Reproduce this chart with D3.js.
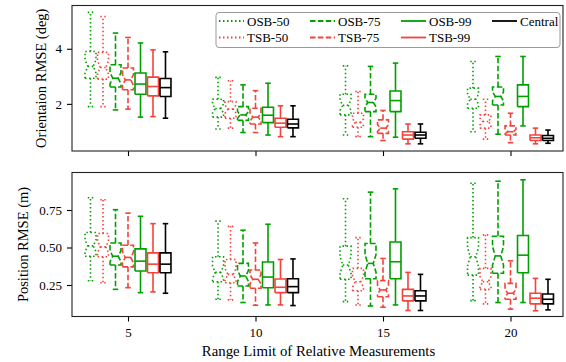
<!DOCTYPE html>
<html lang="en">
<head>
    <meta charset="UTF-8">
    <title>RMSE boxplots</title>
    <script src="https://d3js.org/d3.v7.min.js"></script>
    <style>
        html, body {
            margin: 0;
            background: #fff;
        }
        svg text {
            font-family: "Liberation Serif", "DejaVu Serif", serif;
            fill: #000;
        }
    </style>
</head>
<body>
    <div id="vis"></div>
    <script>

        // ---- data: [whisker low, q1, median, q3, whisker high] per range limit
        var rangeLimits = [5, 10, 15, 20];
        var seriesNames = ['OSB-50', 'TSB-50', 'OSB-75', 'TSB-75', 'OSB-99', 'TSB-99', 'Central'];

        var orientOSB50 = [[1.90, 2.93, 3.36, 3.90, 5.32], [1.09, 1.52, 1.83, 2.17, 2.96], [0.87, 1.60, 1.95, 2.35, 3.38], [0.99, 1.84, 2.17, 2.57, 3.54]];
        var orientTSB50 = [[1.90, 2.90, 3.32, 3.87, 5.17], [1.12, 1.48, 1.81, 2.08, 2.84], [0.81, 1.15, 1.33, 1.66, 2.45], [0.72, 1.12, 1.36, 1.60, 2.17]];
        var orientOSB75 = [[1.78, 2.61, 2.93, 3.42, 4.57], [0.96, 1.40, 1.60, 1.90, 2.69], [0.81, 1.72, 2.05, 2.35, 3.36], [0.90, 1.96, 2.27, 2.61, 3.72]];
        var orientTSB75 = [[1.81, 2.51, 2.87, 3.30, 4.41], [0.96, 1.27, 1.52, 1.84, 2.48], [0.67, 0.93, 1.12, 1.42, 1.76], [0.59, 0.87, 0.99, 1.20, 1.66]];
        var orientOSB99 = [[1.52, 2.35, 2.72, 3.12, 4.21], [0.87, 1.32, 1.59, 1.88, 2.75], [0.79, 1.72, 2.12, 2.47, 3.48], [1.20, 1.90, 2.27, 2.69, 3.72]];
        var orientTSB99 = [[1.54, 2.29, 2.63, 2.97, 3.96], [0.81, 1.15, 1.30, 1.48, 1.93], [0.55, 0.72, 0.87, 0.99, 1.27], [0.55, 0.67, 0.77, 0.87, 1.12]];
        var orientCentral = [[1.48, 2.27, 2.59, 2.92, 3.89], [0.81, 1.13, 1.27, 1.44, 1.93], [0.55, 0.75, 0.87, 0.97, 1.27], [0.57, 0.67, 0.75, 0.85, 1.05]];

        var posOSB50 = [[0.278, 0.442, 0.511, 0.600, 0.832], [0.155, 0.272, 0.334, 0.438, 0.676], [0.139, 0.288, 0.383, 0.509, 0.825], [0.146, 0.316, 0.438, 0.566, 0.928]];
        var posTSB50 = [[0.265, 0.438, 0.504, 0.593, 0.818], [0.151, 0.265, 0.321, 0.420, 0.641], [0.117, 0.212, 0.272, 0.361, 0.566], [0.124, 0.221, 0.272, 0.361, 0.584]];
        var posOSB75 = [[0.221, 0.383, 0.442, 0.530, 0.752], [0.133, 0.243, 0.310, 0.394, 0.615], [0.110, 0.292, 0.394, 0.527, 0.869], [0.133, 0.328, 0.444, 0.575, 0.942]];
        var posTSB75 = [[0.232, 0.371, 0.434, 0.515, 0.729], [0.115, 0.228, 0.288, 0.350, 0.530], [0.102, 0.172, 0.217, 0.279, 0.427], [0.089, 0.155, 0.195, 0.261, 0.411]];
        var posOSB99 = [[0.199, 0.343, 0.409, 0.491, 0.708], [0.117, 0.232, 0.303, 0.403, 0.655], [0.117, 0.292, 0.405, 0.537, 0.891], [0.133, 0.332, 0.449, 0.580, 0.951]];
        var posTSB99 = [[0.204, 0.332, 0.389, 0.464, 0.659], [0.117, 0.199, 0.235, 0.290, 0.420], [0.080, 0.144, 0.177, 0.221, 0.334], [0.078, 0.124, 0.162, 0.195, 0.294]];
        var posCentral = [[0.195, 0.332, 0.389, 0.464, 0.659], [0.113, 0.199, 0.239, 0.292, 0.424], [0.080, 0.144, 0.177, 0.212, 0.321], [0.084, 0.124, 0.155, 0.190, 0.288]];

        var orientTicks = [2, 4];
        var posTicks = [0.25, 0.50, 0.75];

        // samples per box, used for the notch width (matplotlib rule 1.57 * IQR / sqrt(n))
        var notchSamples = 40;

        // ---- styles
        var green = '#00a000', red = '#f4433c';
        var seriesStyle = [
            {color: green, dash: '1.5,2.5', notch: true},
            {color: red, dash: '1.5,2.5', notch: true},
            {color: green, dash: '5.5,2.4', notch: true},
            {color: red, dash: '5.5,2.4', notch: true},
            {color: green, dash: null, notch: false},
            {color: red, dash: null, notch: false},
            {color: '#000', dash: null, notch: false}
        ];

        var W = 566, H = 362;
        var left = 72, right = 563;
        var serif = '"Liberation Serif", "DejaVu Serif", serif';

        var svg = d3.select('#vis')
            .append('svg')
                .attr('width', W)
                .attr('height', H);

        // x: 5 -> 128px, 20 -> 510.5px
        var pxPerUnit = (510.5 - 128) / 15;
        var x = d3.scaleLinear()
            .domain([5 - (128 - left) / pxPerUnit, 20 + (right - 510.5) / pxPerUnit])
            .range([left, right]);
        var step = 0.49, boxWidth = 0.43;

        function panel(opts) {
            var y = d3.scaleLinear().domain(opts.domain).range([opts.bottom, opts.top]);
            var g = svg.append('g');

            // boxes
            opts.data.forEach(function(series, si) {
                var st = seriesStyle[si];
                series.forEach(function(s, gi) {
                    var pos = rangeLimits[gi] + (si - 3) * step;
                    var bl = x(pos - boxWidth / 2), br = x(pos + boxWidth / 2);
                    var cl = x(pos - boxWidth / 4), cr = x(pos + boxWidth / 4);
                    var lo = s[0], q1 = s[1], med = s[2], q3 = s[3], hi = s[4];
                    var bg = g.append('g')
                        .attr('fill', 'none')
                        .attr('stroke', st.color)
                        .attr('stroke-width', 1.6)
                        .attr('stroke-dasharray', st.dash);
                    var line = d3.line();
                    var pts;
                    if (st.notch) {
                        var ci = 1.57 * (q3 - q1) / Math.sqrt(notchSamples);
                        var nlo = med - ci, nhi = med + ci;
                        pts = [[bl, q1], [br, q1], [br, nlo], [cr, med], [br, nhi], [br, q3],
                               [bl, q3], [bl, nhi], [cl, med], [bl, nlo], [bl, q1]];
                    } else {
                        pts = [[bl, q1], [br, q1], [br, q3], [bl, q3], [bl, q1]];
                    }
                    bg.append('path').attr('d', line(pts.map(function(p) { return [p[0], y(p[1])]; })));
                    // whiskers
                    bg.append('path').attr('d', line([[x(pos), y(q1)], [x(pos), y(lo)]]));
                    bg.append('path').attr('d', line([[x(pos), y(q3)], [x(pos), y(hi)]]));
                    // caps
                    bg.append('path').attr('d', line([[cl, y(lo)], [cr, y(lo)]]));
                    bg.append('path').attr('d', line([[cl, y(hi)], [cr, y(hi)]]));
                    // median
                    var ml = st.notch ? cl : bl, mr = st.notch ? cr : br;
                    bg.append('path').attr('d', line([[ml, y(med)], [mr, y(med)]]));
                });
            });

            // axes
            var ya = g.append('g')
                .attr('transform', 'translate(' + left + ',0)')
                .call(d3.axisLeft(y).tickValues(opts.ticks).tickFormat(opts.fmt).tickSize(5).tickPadding(5));
            var xa = g.append('g')
                .attr('transform', 'translate(0,' + opts.bottom + ')')
                .call(d3.axisBottom(x).tickValues(rangeLimits).tickSize(5).tickPadding(6)
                    .tickFormat(opts.xlabels ? d3.format('d') : ''));
            [ya, xa].forEach(function(a) {
                a.attr('font-family', serif).attr('font-size', 13);
                a.select('.domain').remove();
                a.selectAll('line').attr('stroke', '#000').attr('stroke-width', 1.1);
                a.selectAll('text').attr('font-family', serif).attr('font-size', 13);
            });

            g.append('rect')
                .attr('x', left).attr('y', opts.top)
                .attr('width', right - left).attr('height', opts.bottom - opts.top)
                .attr('fill', 'none').attr('stroke', '#222').attr('stroke-width', 1.1);

            g.append('text')
                .attr('transform', 'translate(' + opts.labelX + ',' + ((opts.top + opts.bottom) / 2) + ') rotate(-90)')
                .attr('text-anchor', 'middle')
                .attr('dy', '0.35em')
                .style('font-size', '14.5px')
                .text(opts.label);
            return g;
        }

        panel({
            data: [orientOSB50, orientTSB50, orientOSB75, orientTSB75, orientOSB99, orientTSB99, orientCentral],
            domain: [0.29, 5.57], top: 5.5, bottom: 151,
            ticks: orientTicks, fmt: d3.format('d'),
            label: 'Orientaion RMSE (deg)', labelX: 41, xlabels: false
        });

        panel({
            data: [posOSB50, posTSB50, posOSB75, posTSB75, posOSB99, posTSB99, posCentral],
            domain: [0.04, 1.0], top: 172.5, bottom: 316.5,
            ticks: posTicks, fmt: d3.format('.2f'),
            label: 'Position RMSE (m)', labelX: 23, xlabels: true
        });

        svg.append('text')
            .attr('x', (left + right) / 2 + 1)
            .attr('y', 356)
            .attr('text-anchor', 'middle')
            .style('font-size', '14.8px')
            .text('Range Limit of Relative Measurements');

        // ---- legend
        var legend = svg.append('g');
        legend.append('rect')
            .attr('x', 216).attr('y', 12.5)
            .attr('width', 344).attr('height', 35)
            .attr('rx', 3)
            .attr('fill', 'rgba(255,255,255,0.85)')
            .attr('stroke', '#999').attr('stroke-width', 1);

        var legendOrder = [0, 2, 4, 6, 1, 3, 5];
        legendOrder.forEach(function(si, k) {
            var col = k < 4 ? k : k - 4;
            var row = k < 4 ? 0 : 1;
            var lx = 219 + col * 91, ly = 21 + row * 16.5;
            legend.append('line')
                .attr('x1', lx).attr('x2', lx + 25)
                .attr('y1', ly).attr('y2', ly)
                .attr('stroke', seriesStyle[si].color)
                .attr('stroke-width', 1.8)
                .attr('stroke-dasharray', seriesStyle[si].dash);
            legend.append('text')
                .attr('x', lx + 28).attr('y', ly)
                .attr('dy', '0.35em')
                .style('font-size', '13px')
                .text(seriesNames[si]);
        });

    </script>
</body>
</html>
